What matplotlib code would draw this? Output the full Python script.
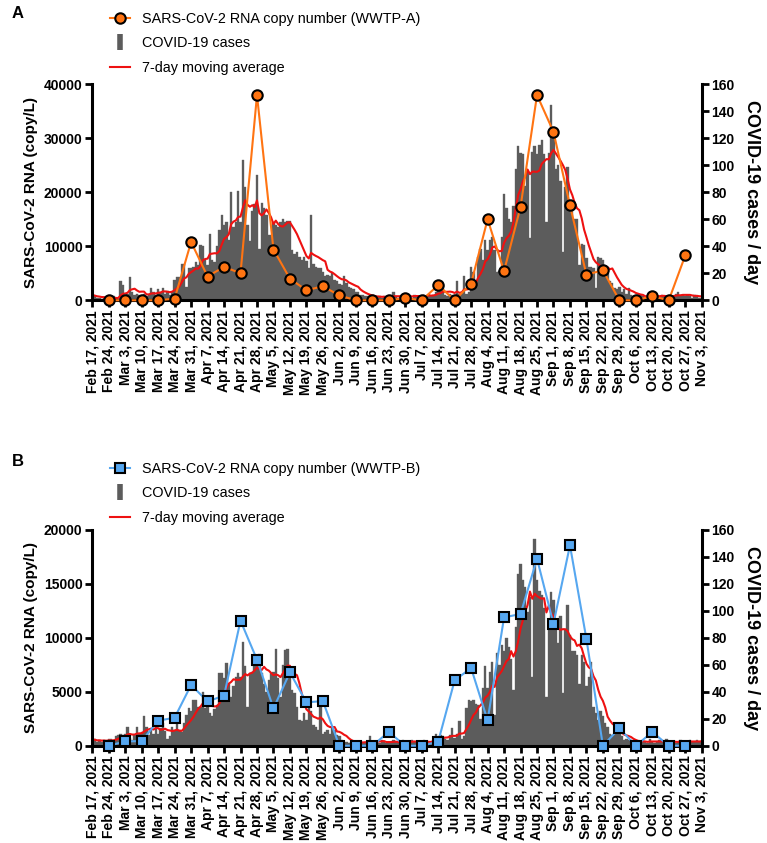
import numpy as np
import pandas as pd
import matplotlib
matplotlib.use('Agg')
import matplotlib.pyplot as plt
from matplotlib.lines import Line2D

plt.rcParams['font.family'] = ['Liberation Sans', 'DejaVu Sans']

# daily axis and weekly ticks
days = pd.date_range('2021-02-17', '2021-11-03', freq='D')
weeks = pd.date_range('2021-02-17', '2021-11-03', freq='7D')
week_labels = [f"{d:%b} {d.day}, {d.year}" for d in weeks]
rna_dates = weeks[1:-1]   # Feb 24 ... Oct 27

# SARS-CoV-2 RNA (copy/L)
rna_a = [0, 0, 0, 0, 300, 10800, 4400, 6200, 5000, 38000, 9400, 4000, 1850, 2600, 900,
         0, 0, 0, 400, 0, 2800, 0, 3100, 15000, 5400, 17300, 38000, 31200, 17600, 4750,
         5550, 0, 0, 750, 0, 8300]
rna_b = [0, 400, 430, 2320, 2600, 5630, 4110, 4640, 11590, 7980, 3460, 6800, 4020, 4140, 0,
         0, 0, 1270, 0, 0, 370, 6060, 7200, 2350, 11900, 12210, 17340, 11310, 18580, 9890,
         0, 1610, 0, 1270, 0, 0]

# COVID-19 cases / day, one row per week (Wed..Tue)
cases_a = [
    4, 3, 2, 2, 1, 2, 1,
    2, 1, 3, 2, 1, 14, 11,
    3, 5, 17, 6, 4, 5, 4,
    4, 5, 3, 5, 9, 6, 3,
    8, 6, 9, 5, 7, 4, 6,
    15, 17, 17, 27, 27, 10, 24,
    24, 25, 28, 26, 41, 40, 30,
    26, 49, 30, 28, 40, 52, 63,
    56, 58, 45, 80, 54, 58, 81,
    58, 104, 84, 56, 44, 66, 71,
    93, 38, 72, 68, 63, 48, 48,
    58, 56, 54, 58, 60, 58, 59,
    59, 37, 34, 36, 32, 30, 32,
    29, 24, 63, 27, 25, 24, 24,
    21, 18, 19, 18, 20, 15, 14,
    12, 11, 18, 13, 10, 9, 8,
    6, 6, 4, 4, 3, 3, 3,
    2, 3, 2, 3, 2, 3, 2,
    3, 2, 6, 3, 2, 3, 3,
    3, 4, 3, 2, 4, 3, 3,
    3, 4, 3, 5, 3, 4, 6,
    9, 7, 11, 4, 3, 5, 4,
    4, 14, 5, 6, 18, 5, 6,
    25, 21, 10, 32, 38, 30, 45,
    37, 45, 47, 37, 21, 22, 47,
    79, 68, 60, 58, 70, 97, 114,
    109, 108, 85, 95, 46, 110, 114,
    108, 115, 119, 108, 58, 109, 145,
    126, 97, 100, 88, 36, 84, 99,
    71, 67, 60, 60, 26, 42, 41,
    31, 25, 25, 24, 9, 32, 31,
    30, 25, 20, 14, 13, 9, 8,
    10, 6, 8, 5, 9, 4, 3,
    3, 2, 4, 3, 2, 3, 4,
    3, 4, 2, 3, 4, 3, 2,
    3, 4, 3, 5, 6, 3, 4,
    3, 4, 3, 2, 4, 3, 2,
    2]
cases_b = [
    4, 5, 3, 4, 3, 4, 3,
    5, 5, 4, 7, 8, 9, 8,
    9, 14, 6, 4, 8, 14, 9,
    10, 22, 14, 8, 12, 9, 17,
    9, 13, 17, 11, 5, 7, 14,
    12, 17, 12, 10, 17, 23, 28,
    26, 34, 34, 29, 29, 40, 28,
    34, 24, 22, 27, 30, 54, 54,
    50, 61, 46, 36, 44, 51, 54,
    51, 77, 59, 29, 54, 55, 66,
    67, 68, 54, 46, 40, 49, 54,
    55, 72, 50, 36, 60, 71, 72,
    54, 41, 39, 29, 19, 18, 24,
    19, 30, 26, 15, 14, 12, 31,
    9, 10, 12, 9, 14, 12, 8,
    7, 4, 3, 3, 2, 3, 2,
    3, 2, 3, 2, 3, 2, 7,
    3, 2, 3, 2, 4, 3, 2,
    3, 2, 4, 3, 2, 3, 4,
    3, 2, 3, 4, 3, 2, 3,
    3, 4, 3, 2, 3, 4, 9,
    6, 8, 7, 5, 4, 8, 13,
    6, 9, 18, 5, 7, 28, 34,
    33, 34, 31, 30, 20, 43, 59,
    43, 55, 62, 23, 69, 60, 75,
    70, 80, 73, 64, 41, 88, 127,
    135, 123, 118, 99, 110, 51, 153,
    123, 115, 112, 102, 36, 86, 114,
    108, 86, 76, 96, 39, 86, 104,
    82, 70, 70, 67, 46, 67, 62,
    44, 51, 62, 29, 24, 19, 26,
    22, 17, 14, 9, 8, 9, 12,
    9, 7, 4, 5, 4, 4, 3,
    3, 2, 3, 4, 3, 2, 5,
    3, 2, 3, 4, 3, 2, 5,
    3, 2, 3, 2, 3, 4, 3,
    3, 2, 4, 3, 3, 4, 3,
    4]

BAR = '#5c5c5c'
MA_RED = '#ee1111'


def draw_panel(ax, rna, cases, rna_max, rna_step, line_color, face, marker, ms, wwtp):
    ax2 = ax.twinx()
    ax2.bar(days, cases, width=1.0, color=BAR, edgecolor=BAR, linewidth=0.25, zorder=1)
    ma = pd.Series(cases).rolling(7, min_periods=1).mean()
    ax2.plot(days, ma, color=MA_RED, lw=1.5, zorder=2)
    ax.plot(rna_dates, rna, color=line_color, lw=1.5, marker=marker, ms=ms,
            mfc=face, mec='black', mew=1.5, clip_on=False, zorder=3)
    ax.set_zorder(ax2.get_zorder() + 1)
    ax.patch.set_visible(False)

    ax.set_xlim(weeks[0], weeks[-1])
    ax.set_ylim(0, rna_max)
    ax2.set_ylim(0, 160)
    yt = np.arange(0, rna_max + 1, rna_step)
    ax.set_yticks(yt, labels=[str(int(v)) for v in yt], fontweight='bold', fontsize=10)
    ax2.set_yticks(np.arange(0, 161, 20), labels=[str(v) for v in range(0, 161, 20)],
                   fontweight='bold', fontsize=10)
    ax.set_xticks(weeks, labels=week_labels, rotation=90, fontweight='bold', fontsize=10)

    for a in (ax, ax2):
        a.spines['top'].set_visible(False)
        a.tick_params(width=2, length=5, pad=2)
    ax.spines['right'].set_visible(False)
    ax2.spines['left'].set_visible(False)
    ax2.spines['bottom'].set_visible(False)
    for s in ('left', 'bottom'):
        ax.spines[s].set_linewidth(2.2)
    ax2.spines['right'].set_linewidth(2.2)

    ax.set_ylabel('SARS-CoV-2 RNA (copy/L)', fontweight='bold', fontsize=11, labelpad=4)
    ax2.set_ylabel('COVID-19 cases / day', fontweight='bold', fontsize=13,
                   rotation=270, labelpad=18)

    handles = [
        Line2D([], [], color=line_color, lw=1.5, marker=marker, ms=ms, mfc=face,
               mec='black', mew=1.5),
        Line2D([], [], ls='none', marker='|', ms=12, mew=4, color=BAR),
        Line2D([], [], color=MA_RED, lw=1.5),
    ]
    labels = [f'SARS-CoV-2 RNA copy number ({wwtp})', 'COVID-19 cases', '7-day moving average']
    return handles, labels


fig = plt.figure(figsize=(7.67, 8.43), dpi=100)
ax_a = fig.add_axes([0.1203, 0.6438, 0.7946, 0.2562])
ax_b = fig.add_axes([0.1203, 0.1154, 0.7946, 0.2559])

leg_kw = dict(loc='upper left', frameon=False, fontsize=10.4, handlelength=1.4,
              handletextpad=0.8, labelspacing=0.72, borderpad=0, borderaxespad=0)

h, l = draw_panel(ax_a, rna_a, cases_a, 40000, 10000, '#ff7412', '#ff7412', 'o', 7.5, 'WWTP-A')
fig.legend(h, l, bbox_to_anchor=(110 / 767, 1 - 12 / 843), **leg_kw)
h, l = draw_panel(ax_b, rna_b, cases_b, 20000, 5000, '#56a7f0', '#56a7f0', 's', 7.5, 'WWTP-B')
fig.legend(h, l, bbox_to_anchor=(110 / 767, 1 - 462 / 843), **leg_kw)

fig.text(12 / 767, 1 - 13 / 843, 'A', fontweight='bold', fontsize=12, va='center')
fig.text(12 / 767, 1 - 461 / 843, 'B', fontweight='bold', fontsize=12, va='center')

fig.savefig('out.png', dpi=100)
